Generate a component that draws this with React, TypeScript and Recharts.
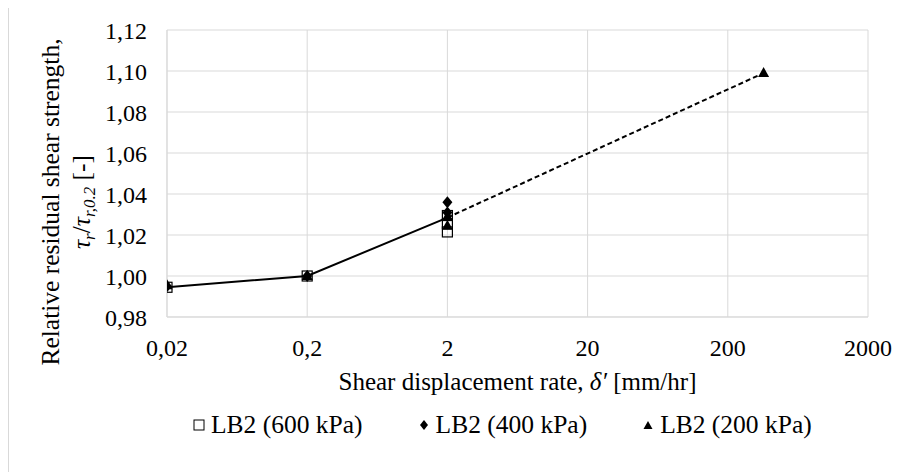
import React from "react";
import {
    ComposedChart,
    Scatter,
    XAxis,
    YAxis,
    CartesianGrid,
} from "recharts";

// shear displacement rate (mm/hr) vs relative residual shear strength
const xTicks = [0.02, 0.2, 2, 20, 200, 2000];
const yTicks = [0.98, 1.0, 1.02, 1.04, 1.06, 1.08, 1.1, 1.12];

const lb2_600 = [
    { x: 0.02, y: 0.9945 },
    { x: 0.2, y: 1.0 },
    { x: 2, y: 1.0215 },
    { x: 2, y: 1.0255 },
    { x: 2, y: 1.0295 },
];
const lb2_400 = [
    { x: 0.02, y: 0.995 },
    { x: 0.2, y: 1.0 },
    { x: 2, y: 1.031 },
    { x: 2, y: 1.036 },
];
const lb2_200 = [
    { x: 0.02, y: 0.9955 },
    { x: 0.2, y: 1.0 },
    { x: 2, y: 1.0245 },
    { x: 2, y: 1.029 },
    { x: 360, y: 1.099 },
];

// trend: measured part solid, extrapolation dashed
const trendSolid = [
    { x: 0.02, y: 0.9945 },
    { x: 0.2, y: 1.0 },
    { x: 2, y: 1.0285 },
];
const trendDashed = [
    { x: 2, y: 1.0285 },
    { x: 360, y: 1.099 },
];

const legendNames = ["LB2 (600 kPa)", "LB2 (400 kPa)", "LB2 (200 kPa)"];

const FONT = "Liberation Serif";
const GRID = "#d9d9d9";

const comma = (v: number, digits?: number) =>
    (digits === undefined ? String(v) : v.toFixed(digits)).replace(".", ",");

const SquareMark = (p: any) => (
    <rect x={p.cx - 5} y={p.cy - 5} width={10} height={10} fill="none" stroke="#000" strokeWidth={1.2} />
);
const DiamondMark = (p: any) => (
    <polygon
        points={`${p.cx},${p.cy - 6} ${p.cx + 5},${p.cy} ${p.cx},${p.cy + 6} ${p.cx - 5},${p.cy}`}
        fill="#000"
    />
);
const TriangleMark = (p: any) => (
    <polygon
        points={`${p.cx},${p.cy - 6} ${p.cx + 5.5},${p.cy + 4} ${p.cx - 5.5},${p.cy + 4}`}
        fill="#000"
    />
);
const NoMark = () => <g />;

function YTitle(props: any) {
    const vb = props.viewBox || { x: 0 };
    const cy = 197;
    const x1 = vb.x + 50;
    const x2 = vb.x + 81;
    return (
        <g fontFamily={FONT} fontSize={25.5} fill="#000">
            <text transform={`rotate(-90 ${x1} ${cy})`} x={x1} y={cy} textAnchor="middle">
                Relative residual shear strength,
            </text>
            <text transform={`rotate(-90 ${x2} ${cy})`} x={x2} y={cy} textAnchor="middle">
                <tspan fontStyle="italic">τ</tspan>
                <tspan fontStyle="italic" fontSize={17} dy={5}>r</tspan>
                <tspan dy={-5}>/</tspan>
                <tspan fontStyle="italic">τ</tspan>
                <tspan fontStyle="italic" fontSize={17} dy={5}>r,0.2</tspan>
                <tspan dy={-5}> [-]</tspan>
            </text>
        </g>
    );
}

function XTitle(props: any) {
    const vb = props.viewBox || { x: 158, y: 313, width: 701 };
    const cx = vb.x + vb.width / 2;
    return (
        <text x={cx} y={vb.y + 73} textAnchor="middle" fontFamily={FONT} fontSize={25} fill="#000">
            Shear displacement rate, <tspan fontStyle="italic">δ′</tspan> [mm/hr]
        </text>
    );
}

function LegendIcon({ i }: { i: number }) {
    return (
        <svg width={12} height={12} style={{ marginRight: 6 }}>
            {i === 0 && <rect x={1} y={1} width={10} height={10} fill="none" stroke="#000" />}
            {i === 1 && <polygon points="6,1 10,6 6,11 2,6" fill="#000" />}
            {i === 2 && <polygon points="6,2 10.5,10 1.5,10" fill="#000" />}
        </svg>
    );
}

export default function App() {
    return (
        <div
            style={{
                position: "relative",
                marginTop: -4,
                width: 897,
                height: 467,
                borderLeft: `1px solid ${GRID}`,
                borderTop: `1px solid ${GRID}`,
                background: "#fff",
            }}
        >
            <ComposedChart
                width={896}
                height={466}
                margin={{ top: 25, right: 37, left: 0, bottom: 0 }}
                style={{ fontFamily: FONT }}
            >
                <CartesianGrid stroke={GRID} strokeWidth={1} />
                <XAxis
                    dataKey="x"
                    type="number"
                    scale="log"
                    domain={[0.02, 2000]}
                    ticks={xTicks}
                    allowDataOverflow
                    tickFormatter={(v: number) => comma(v)}
                    tick={{ fill: "#000", fontSize: 24, fontFamily: FONT }}
                    tickLine={false}
                    tickSize={0}
                    tickMargin={22}
                    axisLine={{ stroke: GRID }}
                    height={154}
                    label={{ content: XTitle }}
                />
                <YAxis
                    dataKey="y"
                    type="number"
                    domain={[0.98, 1.12]}
                    ticks={yTicks}
                    allowDataOverflow
                    tickFormatter={(v: number) => comma(v, 2)}
                    tick={{ fill: "#000", fontSize: 24, fontFamily: FONT }}
                    tickLine={false}
                    tickSize={0}
                    tickMargin={20}
                    axisLine={{ stroke: GRID }}
                    width={158}
                    label={{ content: YTitle }}
                />
                <Scatter
                    data={trendSolid}
                    line={{ stroke: "#000", strokeWidth: 2 }}
                    shape={NoMark}
                    isAnimationActive={false}
                />
                <Scatter
                    data={trendDashed}
                    line={{ stroke: "#000", strokeWidth: 2, strokeDasharray: "5 3" }}
                    shape={NoMark}
                    isAnimationActive={false}
                />
                <Scatter name={legendNames[0]} data={lb2_600} shape={SquareMark} isAnimationActive={false} />
                <Scatter name={legendNames[1]} data={lb2_400} shape={DiamondMark} isAnimationActive={false} />
                <Scatter name={legendNames[2]} data={lb2_200} shape={TriangleMark} isAnimationActive={false} />
            </ComposedChart>

            {/* Legend */}
            <div
                style={{
                    position: "absolute",
                    left: 184,
                    top: 405,
                    display: "flex",
                    alignItems: "center",
                    gap: 55,
                    fontFamily: FONT,
                    fontSize: 25.5,
                    color: "#000",
                }}
            >
                {legendNames.map((n, i) => (
                    <div key={n} style={{ display: "flex", alignItems: "center" }}>
                        <LegendIcon i={i} />
                        <span>{n}</span>
                    </div>
                ))}
            </div>
        </div>
    );
}
